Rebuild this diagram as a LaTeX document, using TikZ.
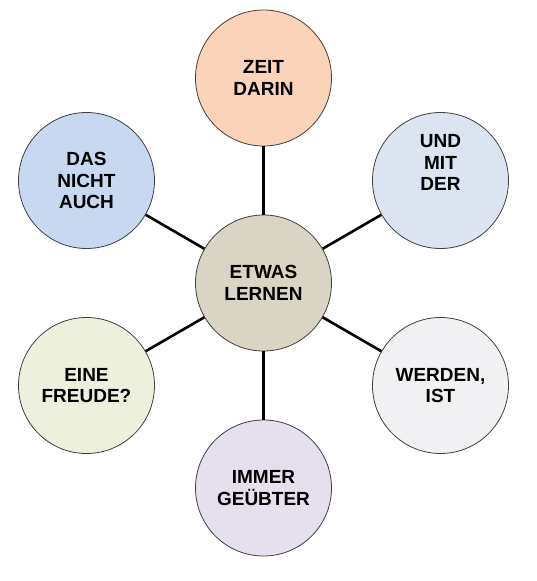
\documentclass[tikz,border=0pt]{standalone}
\usepackage{fontspec}
\setmainfont{Liberation Sans}
\usetikzlibrary{positioning}
\definecolor{peach}{HTML}{FAD3B8}
\definecolor{skyblue}{HTML}{C8D8F0}
\definecolor{paleblue}{HTML}{DCE4F2}
\definecolor{tan}{HTML}{D9D4C4}
\definecolor{palegreen}{HTML}{ECF0DC}
\definecolor{palegray}{HTML}{F1F1F4}
\definecolor{lavender}{HTML}{E6DFEE}
\tikzset{node distance=205pt, on grid,
	bubble/.style={circle, draw=black!75, line width=0.8pt, minimum size=136pt, inner sep=0pt,
		align=center, font=\bfseries\fontsize{19}{21.5}\selectfont},
	spoke/.style={line width=2.6pt}}

\begin{document}
\begin{tikzpicture}[x=1pt, y=1pt]
	\useasboundingbox (-263.5,-298) rectangle (273.5,283);
	\node[bubble, fill=tan] (c) {ETWAS\\LERNEN};
	\node[bubble, fill=peach] (1) [above=of c] {ZEIT\\DARIN};
	\node[bubble, fill=paleblue] (2) [above right=102.5pt and 177pt of c] {UND\\MIT\\DER\\[14pt]};
	\node[bubble, fill=palegray] (3) [below right=102.5pt and 177pt of c] {WERDEN,\\IST};
	\node[bubble, fill=lavender] (4) [below=of c] {IMMER\\GEÜBTER};
	\node[bubble, fill=palegreen] (5) [below left=102.5pt and 177pt of c] {EINE\\FREUDE?};
	\node[bubble, fill=skyblue] (6) [above left=102.5pt and 177pt of c] {DAS\\NICHT\\AUCH};
	\path[draw, spoke]
		(c) edge (1)
		(c) edge (2)
		(c) edge (3)
		(c) edge (4)
		(c) edge (5)
		(c) edge (6)
		;
\end{tikzpicture}
\end{document}
